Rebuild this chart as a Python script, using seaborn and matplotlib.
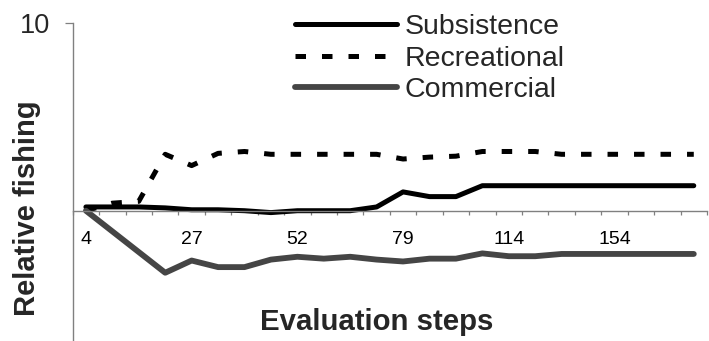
import matplotlib
matplotlib.use("Agg")
import matplotlib.pyplot as plt
import seaborn as sns
import pandas as pd
import numpy as np

sns.set_theme(style="white")
plt.rcParams['font.family'] = ['Liberation Sans', 'DejaVu Sans']

# ---- data ----
series_names = ["Subsistence", "Recreational", "Commercial"]
subsistence = [0.2, 0.2, 0.2, 0.15, 0.05, 0.05, 0.0, -0.1, 0.0, 0.0, 0.0, 0.2,
               1.0, 0.75, 0.75, 1.33, 1.33, 1.33, 1.33, 1.33, 1.33, 1.33, 1.33, 1.33]
recreational = [0.0, 0.4, 0.5, 3.0, 2.4, 3.05, 3.15, 3.0, 3.0, 3.0, 3.0, 3.0,
                2.75, 2.85, 2.9, 3.15, 3.15, 3.15, 3.0, 3.0, 3.0, 3.0, 3.0, 3.0]
commercial = [0.0, -1.1, -2.2, -3.3, -2.65, -3.0, -3.0, -2.6, -2.45, -2.55, -2.45, -2.6,
              -2.7, -2.55, -2.55, -2.27, -2.42, -2.42, -2.3, -2.3, -2.3, -2.3, -2.3, -2.3]
step_labels = ["4", "27", "52", "79", "114", "154"]
label_every = 4
y_ticks = [10]
y_tick_labels = ["10"]

n = len(subsistence)
idx = np.arange(n)
df = pd.DataFrame({
    "step": np.tile(idx, 3),
    "value": subsistence + recreational + commercial,
    "series": np.repeat(series_names, n),
})

W, H = 709, 341
fig = plt.figure(figsize=(W / 100, H / 100), dpi=100)
left_px, right_px, top_px = 72.7, 707.0, 22.7
ax = fig.add_axes([left_px / W, 0.0, (right_px - left_px) / W, (H - top_px) / H])

styles = {
    "Subsistence": dict(color="black", lw=3.6, ls="-"),
    "Recreational": dict(color="black", lw=3.6, ls=(0, (2.1, 3.2))),
    "Commercial": dict(color="#454545", lw=4.2, ls="-"),
}
for name in series_names:
    sub = df[df["series"] == name]
    st = styles[name]
    sns.lineplot(data=sub, x="step", y="value", ax=ax, color=st["color"],
                 linewidth=st["lw"], linestyle=st["ls"], label=name,
                 solid_capstyle="round", dash_capstyle="butt")

ax.set_xlim(-0.5, n - 0.5)
ax.set_ylim(-6.93, 10)

grey = "#808080"
for s in ["top", "right"]:
    ax.spines[s].set_visible(False)
ax.spines["bottom"].set_position(("data", 0))
ax.spines["bottom"].set_color(grey)
ax.spines["left"].set_color(grey)
ax.spines["bottom"].set_linewidth(1.0)
ax.spines["left"].set_linewidth(1.0)

ax.set_xticks(idx[::label_every][:len(step_labels)])
ax.set_xticklabels(step_labels, fontsize=14)
ax.set_xticks(np.arange(n + 1) - 0.5, minor=True)
ax.tick_params(axis="x", which="major", length=0, pad=14.5, labelcolor="black")
ax.tick_params(axis="x", which="minor", length=3.2, width=0.9, color=grey,
               direction="out", bottom=True)
ax.set_yticks(y_ticks)
ax.set_yticklabels(y_tick_labels, fontsize=19.5)
ax.tick_params(axis="y", which="major", length=5.8, width=0.9, color=grey,
               direction="out", pad=10.5, left=True)

ax.set_xlabel("")
ax.set_ylabel("")
fig.text(376.7 / W, 1 - 322 / H, "Evaluation steps", fontsize=21.2,
         fontweight="bold", ha="center", va="center")
fig.text(27 / W, 1 - 208.5 / H, "Relative fishing", fontsize=21,
         fontweight="bold", ha="center", va="center", rotation=90)

leg = ax.legend(loc="upper left", bbox_to_anchor=(295 / W, 1 - 14 / H),
                bbox_transform=fig.transFigure, frameon=False, fontsize=20.5,
                handlelength=3.58, handletextpad=0.28, labelspacing=0.2,
                borderpad=0, borderaxespad=0)

fig.savefig("out.png", dpi=100)
